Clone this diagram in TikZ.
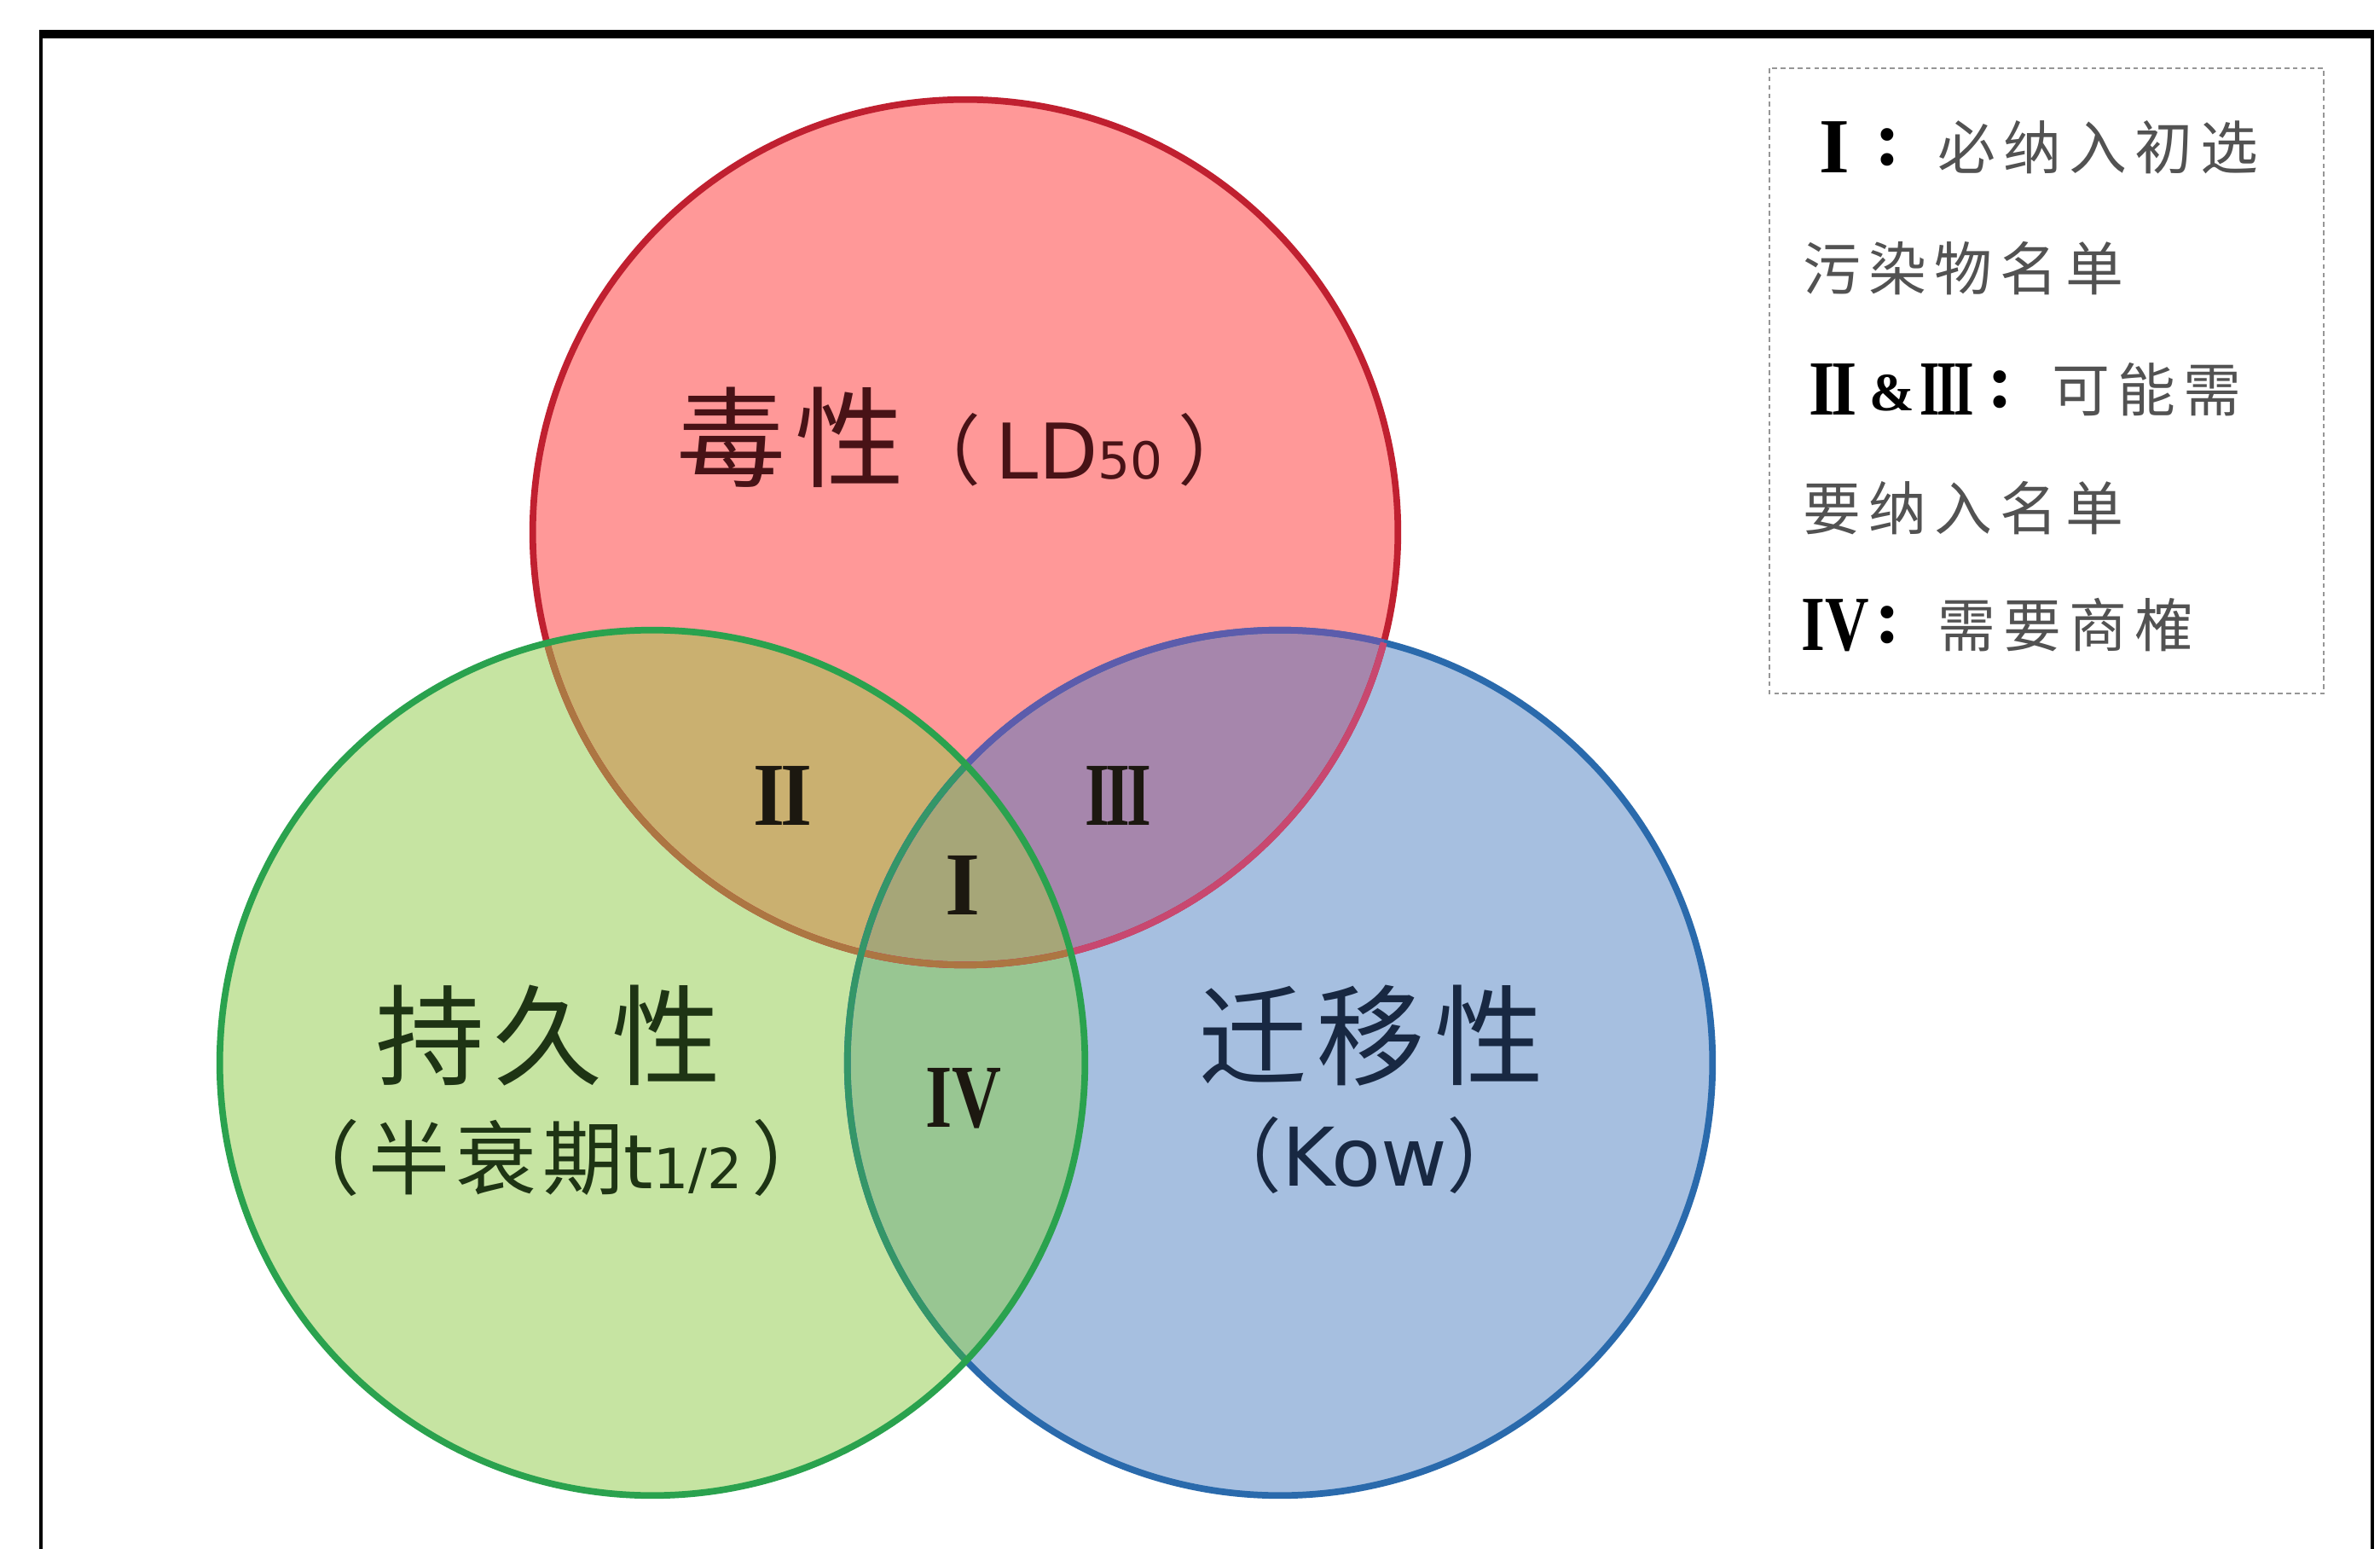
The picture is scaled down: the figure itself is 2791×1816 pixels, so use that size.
\documentclass[tikz,border=0pt]{standalone}
\usepackage{fontspec}
\usepackage{graphicx}
\newfontfamily\cjk{Noto Sans CJK SC}
\newfontfamily\dv{DejaVu Sans}
\newfontfamily\ls{Liberation Serif}
\definecolor{redfill}{RGB}{255,152,152}
\definecolor{greenfill}{RGB}{198,228,162}
\definecolor{bluefill}{RGB}{166,191,224}
\definecolor{rgfill}{RGB}{202,176,112}
\definecolor{rbfill}{RGB}{166,134,172}
\definecolor{gbfill}{RGB}{152,198,146}
\definecolor{rgbfill}{RGB}{166,166,120}
\definecolor{redline}{RGB}{192,32,48}
\definecolor{greenline}{RGB}{42,162,78}
\definecolor{blueline}{RGB}{42,106,172}
\definecolor{redingreen}{RGB}{172,118,66}
\definecolor{blueingreen}{RGB}{52,150,104}
\definecolor{blueinred}{RGB}{92,92,172}
\definecolor{redinblue}{RGB}{200,72,112}
\definecolor{toxtext}{RGB}{72,18,22}
\definecolor{pertext}{RGB}{30,52,20}
\definecolor{migtext}{RGB}{24,40,66}
\definecolor{numtext}{RGB}{28,24,16}
\definecolor{legtext}{RGB}{82,82,82}
\definecolor{legbox}{RGB}{150,150,150}
\newcommand\gapM{\kern3pt}
\newcommand\gapS{\kern2pt}
\newcommand\gapL{\kern2.6pt}
\tikzset{
  ring/.style={line width=2.2pt},
  rn/.style={inner sep=0pt, text=numtext, font=\fontsize{30pt}{30pt}\ls\bfseries},
  lnum/.style={inner sep=0pt, anchor=west, text=black, font=\fontsize{26pt}{26pt}\ls\bfseries},
  ltxt/.style={inner sep=0pt, anchor=west, text=legtext, font=\fontsize{19.3pt}{22pt}\cjk},
  lab/.style={inner sep=0pt, anchor=base},
}
\begin{document}
\begin{tikzpicture}[x=0.01cm,y=-0.01cm]
\useasboundingbox (0,0) rectangle (2791,1816);
\fill[white] (0,0) rectangle (2791,1816);
\def\r{5.07cm}
\coordinate (R) at (1132,624);
\coordinate (G) at (765,1246);
\coordinate (B) at (1501,1246);
% base fills
\fill[redfill] (R) circle (\r);
\fill[greenfill] (G) circle (\r);
\fill[bluefill] (B) circle (\r);
% pairwise overlaps
\begin{scope}\clip (R) circle (\r); \fill[rgfill] (G) circle (\r); \end{scope}
\begin{scope}\clip (R) circle (\r); \fill[rbfill] (B) circle (\r); \end{scope}
\begin{scope}\clip (G) circle (\r); \fill[gbfill] (B) circle (\r); \end{scope}
\begin{scope}\clip (R) circle (\r); \clip (G) circle (\r); \fill[rgbfill] (B) circle (\r); \end{scope}
% borders
\draw[ring, redline] (R) circle (\r);
\draw[ring, blueline] (B) circle (\r);
\begin{scope}\clip (R) circle (\r); \draw[ring, blueinred] (B) circle (\r); \end{scope}
\begin{scope}\clip (B) circle (\r); \draw[ring, redinblue] (R) circle (\r); \end{scope}
\begin{scope}\clip (G) circle (\r);
  \draw[ring, redingreen] (R) circle (\r);
  \draw[ring, blueingreen] (B) circle (\r);
\end{scope}
\draw[ring, greenline] (G) circle (\r);
% outer frame
\draw[line width=1.2pt, black] (48,37) rectangle (2782,1840);
\draw[line width=2.6pt, black] (48,40) -- (2782,40);
% main labels
\node[lab, anchor=base west, text=toxtext] (tox) at (793,562)
  {\fontsize{36.4pt}{40pt}\cjk 毒\gapM 性\fontsize{25.6pt}{30pt}\selectfont （\kern5pt{\dv LD\fontsize{17pt}{20pt}\selectfont 50}\kern5pt）};
\node[lab, text=pertext] (per) at (643,1262)
  {\fontsize{36.4pt}{40pt}\cjk 持\gapM 久\gapM 性};
\node[lab, text=pertext] (perb) at (652,1393)
  {\fontsize{27pt}{30pt}\cjk （\kern3pt 半\gapS 衰\gapS 期{\dv\fontsize{25pt}{28pt}\selectfont t\fontsize{18.5pt}{20pt}\selectfont 1/2}\kern3pt）};
\node[lab, text=pertext] (mig) at (1608,1262)
  {\color{migtext}\fontsize{36.4pt}{40pt}\cjk 迁\gapM 移\gapM 性};
\node[lab, text=migtext] (migb) at (1600,1390)
  {\fontsize{27pt}{30pt}\cjk （{\dv Kow}）};
% region numerals
\node[rn] (n2) at (918,933) {\scalebox{0.9}[1]{I\kern-.06em I}};
\node[rn] (n3) at (1311,933) {\scalebox{0.7}[1]{I\kern-.06em I\kern-.06em I}};
\node[rn] (n1) at (1129,1038) {I};
\node[rn] (n4) at (1130,1288) {\scalebox{0.76}[1]{IV}};
% legend
\draw[legbox, line width=0.8pt, dash pattern=on 1.6pt off 1.2pt] (2075,80) rectangle (2725,813);
\node[lnum] (l1a) at (2133,173) {I};
\node[lnum] (l1b) at (2198,173) {:};
\node[ltxt] (l1c) at (2272,173) {必\gapL 纳\gapL 入\gapL 初\gapL 选};
\node[ltxt] (l2) at (2114,315) {污\gapL 染\gapL 物\gapL 名\gapL 单};
\node[lnum] (l3a) at (2121,457) {\scalebox{0.85}[1]{I\kern-.06em I}};
\node[lnum, font=\fontsize{18pt}{18pt}\ls\bfseries] (l3b) at (2192,461) {\&};
\node[lnum] (l3c) at (2251,457) {\scalebox{0.66}[1]{I\kern-.06em I\kern-.06em I}};
\node[lnum] (l3d) at (2330,457) {:};
\node[ltxt] (l3e) at (2406,457) {可\gapL 能\gapL 需};
\node[ltxt] (l4) at (2114,596) {要\gapL 纳\gapL 入\gapL 名\gapL 单};
\node[lnum] (l5a) at (2112,733) {\scalebox{0.78}[1]{IV}};
\node[lnum] (l5b) at (2198,733) {:};
\node[ltxt] (l5c) at (2272,733) {需\gapL 要\gapL 商\gapL 榷};
\end{tikzpicture}
\end{document}
